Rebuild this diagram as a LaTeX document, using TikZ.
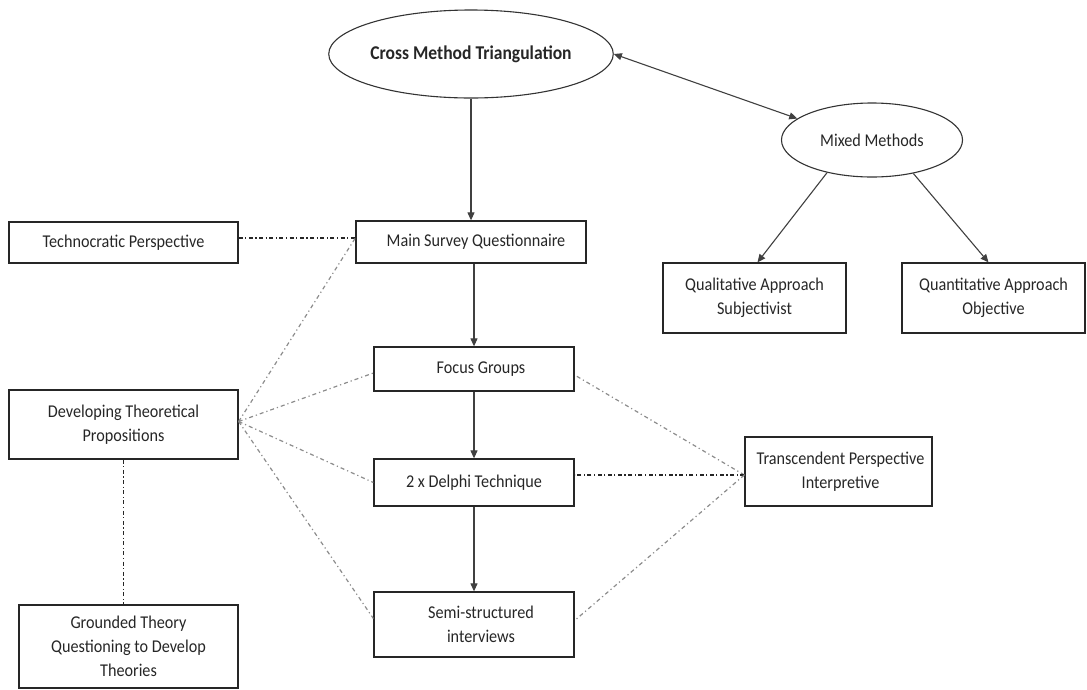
\documentclass[tikz,border=0pt]{standalone}
\usepackage{fontspec}
\setmainfont{Carlito}[FakeStretch=0.9]
\usetikzlibrary{arrows.meta,shapes.geometric}
\tikzset{
  box/.style={draw=black!85, line width=1.3pt, rectangle, align=center, inner sep=2pt, text=black!85},
  oval/.style={draw=black!80, line width=1.1pt, ellipse, align=center, inner sep=0pt, text=black!85},
  flow/.style={draw=black!75, line width=1.1pt, -{Triangle[width=7pt,length=8pt]}},
  dflow/.style={draw=black!75, line width=1.1pt, {Triangle[width=7pt,length=8pt]}-{Triangle[width=7pt,length=8pt]}},
  dd/.style={draw=black!85, line width=1.1pt, dash pattern=on 4pt off 2.5pt on 1.2pt off 2.5pt},
  gd/.style={draw=black!45, line width=1.2pt, dash pattern=on 4pt off 3pt on 1.2pt off 3pt},
}
\begin{document}
\begin{tikzpicture}[x=1pt,y=-1pt, font=\fontsize{18}{24}\selectfont]
\useasboundingbox (0,0) rectangle (1087,689);
% ellipses
\node[oval, minimum width=274pt, minimum height=88pt, font=\fontsize{19.5}{24}\selectfont\bfseries] (cross) at (471,54) {Cross Method Triangulation};
\node[oval, minimum width=181pt, minimum height=74pt] (mixed) at (872,140) {Mixed Methods};
% boxes
\node[box, minimum width=229pt, minimum height=41pt] (tech) at (123.5,242.5) {Technocratic Perspective};
\node[box, minimum width=230pt, minimum height=42pt] (main) at (471,242) {\hspace*{10pt}Main Survey Questionnaire};
\node[box, minimum width=200pt, minimum height=44pt] (focus) at (474,369) {\hspace*{14pt}Focus Groups};
\node[box, minimum width=200pt, minimum height=47pt] (delphi) at (474,482.5) {2 x Delphi Technique};
\node[box, minimum width=200pt, minimum height=65pt] (semi) at (474,624.5) {\hspace*{14pt}Semi-structured\\\hspace*{14pt}interviews};
\node[box, minimum width=229pt, minimum height=69pt] (dev) at (123.5,424.5) {Developing Theoretical\\Propositions};
\node[box, minimum width=219pt, minimum height=83pt] (ground) at (128.5,646.5) {Grounded Theory\\Questioning to Develop\\Theories};
\node[box, minimum width=183pt, minimum height=70pt] (qual) at (754.5,298) {Qualitative Approach\\Subjectivist};
\node[box, minimum width=183pt, minimum height=70pt] (quant) at (993.5,298) {Quantitative Approach\\Objective};
\node[box, minimum width=187pt, minimum height=69pt] (trans) at (838.5,471.5) {\hspace*{4pt}Transcendent Perspective\\\hspace*{4pt}Interpretive};
% junction points
\coordinate (mj) at ([yshift=4pt]main.west);
\coordinate (dj) at ([yshift=3pt]dev.east);
\coordinate (tj) at ([yshift=-3.5pt]trans.west);
% solid arrows
\draw[flow] (cross.south) -- (main.north);
\draw[flow] (main.south -| focus.north) -- (focus.north);
\draw[flow] (focus.south) -- (delphi.north);
\draw[flow] (delphi.south) -- (semi.north);
\draw[dflow] (cross.east) -- (mixed.164);
\draw[flow] (mixed.216) -- ([xshift=3pt]qual.north);
\draw[flow] (mixed.321) -- ([xshift=-5pt]quant.north);
% dash-dot connectors
\draw[dd] (tech.east |- mj) -- (mj);
\draw[gd] (dj) -- (mj);
\draw[gd] (dj) -- ([yshift=-4pt]focus.west);
\draw[gd] (dj) -- (delphi.west);
\draw[gd] (dj) -- ([yshift=6pt]semi.west);
\draw[dd] (dev.south) -- (dev.south |- ground.north);
\draw[gd] (tj) -- ([yshift=-6pt]focus.east);
\draw[dd] (tj) -- (tj -| delphi.east);
\draw[gd] (tj) -- ([yshift=4pt]semi.east);
\end{tikzpicture}
\end{document}
